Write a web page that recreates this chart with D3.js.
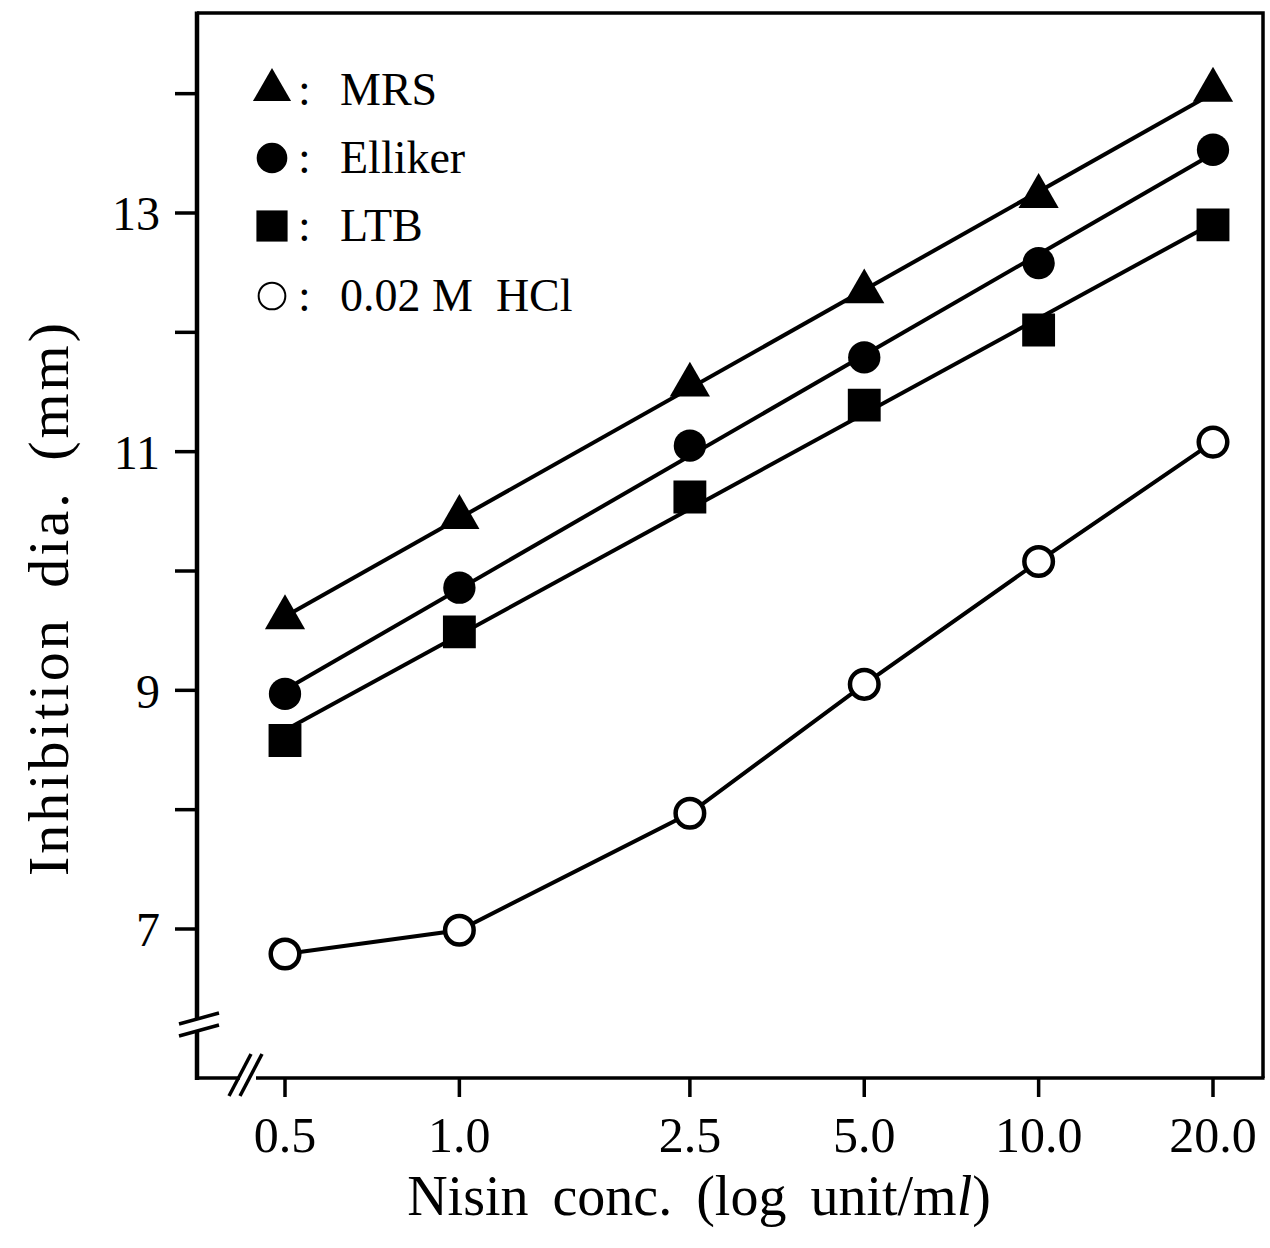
<!DOCTYPE html>
<html>
<head>
<meta charset="utf-8">
<script src="https://cdn.jsdelivr.net/npm/d3@7"></script>
<style>
  body { margin: 0; background: #fff; }
</style>
</head>
<body>
<svg id="chart" width="1270" height="1248"></svg>
<script>
// nisin concentrations (log unit/ml)
var conc = [0.5, 1.0, 2.5, 5.0, 10.0, 20.0];
var concLabels = ["0.5", "1.0", "2.5", "5.0", "10.0", "20.0"];
// inhibition diameter (mm)
var mrs     = [9.61, 10.45, 11.56, 12.34, 13.14, 14.03];
var elliker = [8.97, 9.86, 11.05, 11.79, 12.58, 13.53];
var ltb     = [8.58, 9.49, 10.62, 11.39, 12.02, 12.90];
var hcl     = [6.79, 6.99, 7.97, 9.05, 10.08, 11.08];
var yTicks = [7, 8, 9, 10, 11, 12, 13, 14];
var yLabels = [7, 9, 11, 13];

var FONT = "'Liberation Serif', 'DejaVu Serif', serif";
var svg = d3.select("#chart");

var frameL = 197, frameR = 1263, frameT = 13, frameB = 1078;

var x = d3.scaleLog().domain([0.5, 20]).range([285, 1213]);
var y = d3.scaleLinear().domain([7, 13]).range([929, 213]);

var series = [
  {name: "MRS",     vals: mrs,     sym: d3.symbolTriangle, size: 700,  open: false, fit: true},
  {name: "Elliker", vals: elliker, sym: d3.symbolCircle,   size: 820,  open: false, fit: true},
  {name: "LTB",     vals: ltb,     sym: d3.symbolSquare,   size: 1080, open: false, fit: true},
  {name: "0.02 M\u00a0\u00a0HCl", vals: hcl, sym: d3.symbolCircle, size: 640, open: true, fit: false}
];

// least squares in log(conc)
function fitLine(vals){
  var lx = conc.map(function(c){ return Math.log(c); });
  var mx = d3.mean(lx), my = d3.mean(vals);
  var sxy = 0, sxx = 0;
  for (var i=0;i<lx.length;i++){
    sxy += (lx[i]-mx)*(vals[i]-my);
    sxx += (lx[i]-mx)*(lx[i]-mx);
  }
  var b = sxy/sxx, a = my - b*mx;
  return [conc[0], conc[conc.length-1]].map(function(c){ return [c, a + b*Math.log(c)]; });
}

var line = d3.line()
  .x(function(d){ return x(d[0]); })
  .y(function(d){ return y(d[1]); });

// frame
svg.append("path")
  .attr("d", "M" + frameL + "," + frameT + "H" + frameR + "V" + frameB)
  .attr("fill", "none").attr("stroke", "#000").attr("stroke-width", 3.5);

// left axis with break
svg.append("line").attr("x1", frameL).attr("x2", frameL).attr("y1", frameT - 1.5).attr("y2", 1019)
  .attr("stroke", "#000").attr("stroke-width", 4.5);
svg.append("line").attr("x1", frameL).attr("x2", frameL).attr("y1", 1030).attr("y2", frameB + 2)
  .attr("stroke", "#000").attr("stroke-width", 4.5);
svg.selectAll(".ybreak").data([0, 12]).enter().append("line")
  .attr("class", "ybreak")
  .attr("x1", frameL - 18).attr("x2", frameL + 22)
  .attr("y1", function(d){ return 1024 + d; }).attr("y2", function(d){ return 1013 + d; })
  .attr("stroke", "#000").attr("stroke-width", 3.5);

// bottom axis with break
svg.append("line").attr("x1", frameL - 2).attr("x2", 240).attr("y1", frameB).attr("y2", frameB)
  .attr("stroke", "#000").attr("stroke-width", 3.5);
svg.append("line").attr("x1", 256).attr("x2", frameR + 1.5).attr("y1", frameB).attr("y2", frameB)
  .attr("stroke", "#000").attr("stroke-width", 3.5);
svg.selectAll(".xbreak").data([0, 11]).enter().append("line")
  .attr("class", "xbreak")
  .attr("x1", function(d){ return 229 + d; }).attr("x2", function(d){ return 251 + d; })
  .attr("y1", frameB + 18).attr("y2", frameB - 24)
  .attr("stroke", "#000").attr("stroke-width", 3.5);

// y ticks
svg.selectAll(".ytick").data(yTicks).enter().append("line")
  .attr("class", "ytick")
  .attr("x1", frameL - 22).attr("x2", frameL)
  .attr("y1", function(d){ return y(d); }).attr("y2", function(d){ return y(d); })
  .attr("stroke", "#000").attr("stroke-width", 3.5);
svg.selectAll(".ylab").data(yLabels).enter().append("text")
  .attr("class", "ylab")
  .attr("x", 160).attr("y", function(d){ return y(d); })
  .attr("dy", "0.36em")
  .attr("text-anchor", "end")
  .attr("font-family", FONT)
  .attr("font-size", 48)
  .text(function(d){ return d; });

// x ticks
svg.selectAll(".xtick").data(conc).enter().append("line")
  .attr("class", "xtick")
  .attr("x1", function(d){ return x(d); }).attr("x2", function(d){ return x(d); })
  .attr("y1", frameB).attr("y2", frameB + 19)
  .attr("stroke", "#000").attr("stroke-width", 3.5);
svg.selectAll(".xlab").data(conc).enter().append("text")
  .attr("class", "xlab")
  .attr("x", function(d){ return x(d); }).attr("y", 1152)
  .attr("text-anchor", "middle")
  .attr("font-family", FONT)
  .attr("font-size", 50)
  .text(function(d, i){ return concLabels[i]; });

// axis titles
var xt = svg.append("text")
  .attr("x", 699).attr("y", 1215)
  .attr("text-anchor", "middle")
  .attr("font-family", FONT)
  .attr("font-size", 56)
  .style("word-spacing", "10px");
xt.append("tspan").text("Nisin conc. (log unit/m");
xt.append("tspan").style("font-style", "italic").text("l");
xt.append("tspan").text(")");

svg.append("text")
  .attr("transform", "translate(68,598) rotate(-90)")
  .attr("text-anchor", "middle")
  .attr("font-family", FONT)
  .attr("font-size", 58)
  .style("letter-spacing", "3px")
  .style("word-spacing", "12px")
  .text("Inhibition dia. (mm)");

// lines
series.forEach(function(s){
  var pts = s.fit ? fitLine(s.vals) : conc.map(function(c, i){ return [c, s.vals[i]]; });
  svg.append("path")
    .attr("d", line(pts))
    .attr("fill", "none").attr("stroke", "#000").attr("stroke-width", 4);
});

// markers
series.forEach(function(s){
  svg.selectAll(null).data(s.vals).enter().append("path")
    .attr("transform", function(d, i){ return "translate(" + x(conc[i]) + "," + y(d) + ")"; })
    .attr("d", d3.symbol().type(s.sym).size(s.size)())
    .attr("fill", s.open ? "#fff" : "#000")
    .attr("stroke", "#000")
    .attr("stroke-width", s.open ? 4.5 : 0);
});

// legend
var legY = [90, 158, 226, 296];
var leg = svg.selectAll(".leg").data(series).enter().append("g")
  .attr("class", "leg")
  .attr("transform", function(d, i){ return "translate(272," + legY[i] + ")"; });
leg.append("path")
  .attr("d", function(d){ return d3.symbol().type(d.sym).size(d.open ? 560 : d.size * 0.9)(); })
  .attr("fill", function(d){ return d.open ? "#fff" : "#000"; })
  .attr("stroke", "#000")
  .attr("stroke-width", function(d){ return d.open ? 2 : 0; });
leg.append("text")
  .attr("x", 26).attr("y", 15)
  .attr("font-family", FONT)
  .attr("font-size", 46)
  .text(":");
leg.append("text")
  .attr("x", 68).attr("y", 15)
  .attr("font-family", FONT)
  .attr("font-size", 46)
  .text(function(d){ return d.name; });
</script>
</body>
</html>
